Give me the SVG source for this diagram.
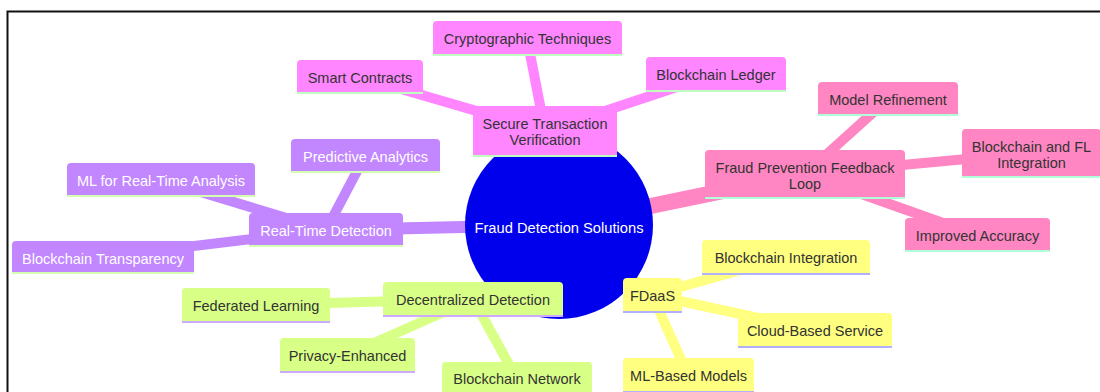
<svg xmlns="http://www.w3.org/2000/svg" width="1100" height="392" viewBox="0 0 1100 392">
<style>
text{font-family:"Liberation Sans",Arial,sans-serif;font-size:14.5px;text-anchor:middle}
.dk{fill:#333333}
.wt{fill:#ffffff}
.e{fill:none;stroke-linecap:butt}
.e0{stroke-width:13}
.e1{stroke-width:10}
.mg{fill:#ff86ff}.mge{stroke:#ff86ff}.mgu{stroke:#bfffbf}
.pk{fill:#ff86c2}.pke{stroke:#ff86c2}.pku{stroke:#b0ffd8}
.yl{fill:#ffff80}.yle{stroke:#ffff80}.ylu{stroke:#b0b0ff}
.lm{fill:#d8ff86}.lme{stroke:#d8ff86}.lmu{stroke:#cbaaff}
.pu{fill:#c286ff}.pue{stroke:#c286ff}.puu{stroke:#d4ffb0}
.u{stroke-width:2}
</style>
<rect x="0" y="0" width="1100" height="392" fill="#ffffff"/>
<path d="M7.5,393V11.5H1101" fill="none" stroke="#111111" stroke-width="2"/>
<g id="connectors">
  <line class="e e0 mge" x1="559" y1="225" x2="545" y2="131"/>
  <line class="e pke" stroke-width="16" x1="559" y1="225" x2="805" y2="174"/>
  <line class="e e0 yle" x1="559" y1="225" x2="652" y2="295"/>
  <line class="e e0 lme" x1="559" y1="225" x2="473" y2="299"/>
  <line class="e pue" stroke-width="12" x1="559" y1="225" x2="326" y2="230"/>
  <line class="e e1 mge" x1="545" y1="131" x2="527" y2="38"/>
  <line class="e e1 mge" x1="545" y1="131" x2="360" y2="77"/>
  <line class="e e1 mge" x1="545" y1="131" x2="716" y2="74"/>
  <line class="e e1 pke" x1="805" y1="174" x2="888" y2="99"/>
  <line class="e e1 pke" x1="805" y1="174" x2="1031" y2="153"/>
  <line class="e e1 pke" x1="805" y1="174" x2="977" y2="235"/>
  <line class="e e1 yle" x1="652" y1="295" x2="786" y2="257"/>
  <line class="e e1 yle" x1="652" y1="295" x2="815" y2="330"/>
  <line class="e e1 yle" x1="652" y1="295" x2="688" y2="375"/>
  <line class="e e1 lme" x1="473" y1="299" x2="256" y2="305"/>
  <line class="e e1 lme" x1="473" y1="299" x2="347" y2="355"/>
  <line class="e e1 lme" x1="473" y1="299" x2="517" y2="379"/>
  <line class="e e1 pue" x1="326" y1="230" x2="365" y2="156"/>
  <line class="e e1 pue" x1="326" y1="230" x2="161" y2="180"/>
  <line class="e e1 pue" x1="326" y1="230" x2="103" y2="257"/>
</g>
<g id="root">
  <circle cx="559" cy="225" r="94" fill="#0000ec"/>
  <text class="wt" x="559" y="233" style="font-size:14.7px">Fraud Detection Solutions</text>
</g>
<g id="n-secure">
  <path class="mg" d="M473,157V110q0,-4 4,-4H613q4,0 4,4V157Z"/>
  <line class="u mgu" x1="473" y1="156" x2="617" y2="156"/>
  <text class="dk" x="545" y="129">Secure Transaction</text>
  <text class="dk" x="545" y="144.5">Verification</text>
</g>
<g id="n-crypto">
  <path class="mg" d="M433,56V25q0,-4 4,-4H618q4,0 4,4V56Z"/>
  <line class="u mgu" x1="433" y1="55" x2="622" y2="55"/>
  <text class="dk" x="527.5" y="43.5">Cryptographic Techniques</text>
</g>
<g id="n-smart">
  <path class="mg" d="M297,94V64q0,-4 4,-4H419q4,0 4,4V94Z"/>
  <line class="u mgu" x1="297" y1="93" x2="423" y2="93"/>
  <text class="dk" x="360" y="82.5">Smart Contracts</text>
</g>
<g id="n-ledger">
  <path class="mg" d="M646,92V61q0,-4 4,-4H782q4,0 4,4V92Z"/>
  <line class="u mgu" x1="646" y1="91" x2="786" y2="91"/>
  <text class="dk" x="716" y="80">Blockchain Ledger</text>
</g>
<g id="n-feedback">
  <path class="pk" d="M705,199V154q0,-4 4,-4H901q4,0 4,4V199Z"/>
  <line class="u pku" x1="705" y1="198" x2="905" y2="198"/>
  <text class="dk" x="805" y="173">Fraud Prevention Feedback</text>
  <text class="dk" x="805" y="189">Loop</text>
</g>
<g id="n-model">
  <path class="pk" d="M818,116V86q0,-4 4,-4H954q4,0 4,4V116Z"/>
  <line class="u pku" x1="818" y1="115" x2="958" y2="115"/>
  <text class="dk" x="888" y="104.5">Model Refinement</text>
</g>
<g id="n-bfl">
  <path class="pk" d="M962,178V133q0,-4 4,-4H1097q4,0 4,4V178Z"/>
  <line class="u pku" x1="962" y1="177" x2="1101" y2="177"/>
  <text class="dk" x="1031.5" y="152">Blockchain and FL</text>
  <text class="dk" x="1031.5" y="168">Integration</text>
</g>
<g id="n-improved">
  <path class="pk" d="M905,252V222q0,-4 4,-4H1046q4,0 4,4V252Z"/>
  <line class="u pku" x1="905" y1="251" x2="1050" y2="251"/>
  <text class="dk" x="977.5" y="240.5">Improved Accuracy</text>
</g>
<g id="n-fdaas">
  <path class="yl" d="M623,313V282q0,-4 4,-4H678q4,0 4,4V313Z"/>
  <line class="u ylu" x1="623" y1="312" x2="682" y2="312"/>
  <text class="dk" x="652.5" y="300.5">FDaaS</text>
</g>
<g id="n-bint">
  <path class="yl" d="M702,275V244q0,-4 4,-4H866q4,0 4,4V275Z"/>
  <line class="u ylu" x1="702" y1="274" x2="870" y2="274"/>
  <text class="dk" x="786" y="263">Blockchain Integration</text>
</g>
<g id="n-cloud">
  <path class="yl" d="M738,348V317q0,-4 4,-4H888q4,0 4,4V348Z"/>
  <line class="u ylu" x1="738" y1="347" x2="892" y2="347"/>
  <text class="dk" x="815" y="336">Cloud-Based Service</text>
</g>
<g id="n-mlbased">
  <path class="yl" d="M623,393V362q0,-4 4,-4H750q4,0 4,4V393Z"/>
  <line class="u ylu" x1="623" y1="392" x2="754" y2="392"/>
  <text class="dk" x="688.5" y="381">ML-Based Models</text>
</g>
<g id="n-decentral">
  <path class="lm" d="M383,317V286q0,-4 4,-4H559q4,0 4,4V317Z"/>
  <line class="u lmu" x1="383" y1="316" x2="563" y2="316"/>
  <text class="dk" x="473" y="304.5">Decentralized Detection</text>
</g>
<g id="n-federated">
  <path class="lm" d="M182,323V292q0,-4 4,-4H326q4,0 4,4V323Z"/>
  <line class="u lmu" x1="182" y1="322" x2="330" y2="322"/>
  <text class="dk" x="256" y="311">Federated Learning</text>
</g>
<g id="n-privacy">
  <path class="lm" d="M280,373V342q0,-4 4,-4H411q4,0 4,4V373Z"/>
  <line class="u lmu" x1="280" y1="372" x2="415" y2="372"/>
  <text class="dk" x="347.5" y="361">Privacy-Enhanced</text>
</g>
<g id="n-network">
  <path class="lm" d="M442,397V366q0,-4 4,-4H588q4,0 4,4V397Z"/>
  <line class="u lmu" x1="442" y1="396" x2="592" y2="396"/>
  <text class="dk" x="517" y="384">Blockchain Network</text>
</g>
<g id="n-realtime">
  <path class="pu" d="M249,247V217q0,-4 4,-4H399q4,0 4,4V247Z"/>
  <line class="u puu" x1="249" y1="246" x2="403" y2="246"/>
  <text class="wt" x="326" y="235.5">Real-Time Detection</text>
</g>
<g id="n-predictive">
  <path class="pu" d="M291,173V143q0,-4 4,-4H436q4,0 4,4V173Z"/>
  <line class="u puu" x1="291" y1="172" x2="440" y2="172"/>
  <text class="wt" x="365.5" y="162">Predictive Analytics</text>
</g>
<g id="n-mlrealtime">
  <path class="pu" d="M67,197V167q0,-4 4,-4H251q4,0 4,4V197Z"/>
  <line class="u puu" x1="67" y1="196" x2="255" y2="196"/>
  <text class="wt" x="161" y="186">ML for Real-Time Analysis</text>
</g>
<g id="n-transparency">
  <path class="pu" d="M12,274V245q0,-4 4,-4H190q4,0 4,4V274Z"/>
  <line class="u puu" x1="12" y1="273" x2="194" y2="273"/>
  <text class="wt" x="103" y="263.5">Blockchain Transparency</text>
</g>
</svg>
